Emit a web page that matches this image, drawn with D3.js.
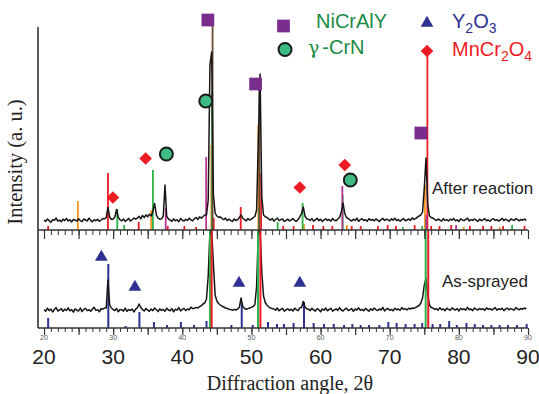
<!DOCTYPE html>
<html><head><meta charset="utf-8">
<script src="https://cdn.jsdelivr.net/npm/d3@7"></script>
<style>html,body{margin:0;padding:0;background:#fff;}svg{display:block;}</style>
</head><body>
<svg id="chart" width="539" height="394"></svg>
<script>
// ---------- DATA ----------
const angleStart = 20, angleStep = 0.25;
// "After reaction" pattern (counts, 0.25 deg step from 20 deg)
const upperCounts = [
98,86,110,92,78,104,96,120,88,100,82,108,94,116,90,102,80,106,98,88,112,94,84,110,100,90,118,96,82,104,92,108,86,100,114,112,
125,225,130,105,110,130,205,125,102,
92,110,86,100,116,90,102,120,108,
118,138,112,146,124,152,132,158,140,
185,265,150,118,108,112,140,450,135,110,
99,87,111,93,103,83,115,97,89,107,95,119,101,91,113,125,105,131,119,135,
150,150,300,1650,1780,350,170,140,128,
131,115,103,119,93,109,97,85,111,95,103,125,
150,118,
103,91,115,99,109,123,135,
200,900,1560,330,150,132,
125,111,99,115,89,105,119,93,103,111,85,97,109,91,101,115,95,87,105,131,
165,230,140,112,
106,96,114,90,100,118,94,108,84,102,112,96,106,88,116,98,92,110,128,
180,270,165,125,
114,100,90,108,96,118,86,104,112,94,102,88,114,98,106,92,110,100,84,104,116,96,108,
102,90,112,98,118,94,106,88,104,114,92,100,110,96,122,106,114,128,140,
150,180,420,720,260,140,125,
118,106,94,110,100,88,114,96,104,90,108,98,116,92,102,86,112,100,94,106,118,90,104,96,110,98,86,108,94,102,114,92,100,88,106,112,96,104,90,100,118,94,108,98,86,110,102,96,114,104,92,106,98,110,94
];
// "As-sprayed" pattern
const lowerCounts = [
182,168,198,174,190,160,186,204,170,180,194,166,188,176,202,172,184,158,192,178,170,200,164,186,196,174,182,168,190,206,176,184,162,194,188,200,
200,480,230,200,185,
174,194,162,186,180,170,198,166,184,176,190,160,188,202,
240,205,
184,170,196,178,166,190,174,200,182,164,192,176,186,168,198,180,172,194,162,188,178,204,170,186,196,174,190,182,208,194,196,206,200,214,222,240,
250,290,520,960,975,640,330,270,245,230,218,210,200,196,188,184,178,186,180,190,205,300,215,195,188,194,200,206,215,235,420,960,975,560,320,255,228,212,200,194,
190,178,200,172,186,196,168,182,192,176,188,170,198,184,174,202,
205,265,210,192,
188,174,198,180,170,194,184,162,190,178,200,172,186,196,168,182,192,176,204,180,170,188,198,174,184,194,166,190,180,202,176,186,172,196,182,168,192,178,200,184,174,190,180,206,170,188,196,178,186,172,198,182,190,176,204,186,194,180,198,190,200,196,206,215,
225,250,300,430,495,330,230,205,
200,186,194,178,204,182,190,172,198,186,176,202,188,180,194,170,196,184,192,178,206,182,190,174,200,188,180,196,184,192,176,202,186,194,180,190,204,178,192,184,198,174,188,200,182,194,186,178,204,190,182,196,188,200,190
];

// reference cards [angle, counts]
const upperRed = [[20.6,40],[29.25,570],[33.7,80],[37.9,40],[40.3,40],[42.0,30],[44.55,120],[48.45,230],[51.4,570],[54.6,40],[56.1,40],[58.9,50],[60.4,40],[61.7,40],[64.5,40],[65.8,40],[68.3,40],[69.7,50],[70.9,40],[73.6,50],[75.45,1780],[76.0,40],[77.2,40],[78.9,50],[81.6,40],[83.5,40],[84.7,40],[86.4,40],[89.5,40]];
const upperGreen = [[30.6,210],[31.6,50],[35.75,600],[44.3,1380],[51.1,220],[53.8,80],[57.4,270],[63.2,350],[71.9,30],[74.7,40],[75.25,100],[87.7,50]];
const upperOrange = [[24.9,290],[35.5,200],[44.2,850],[51.0,1050],[57.6,60],[63.8,50],[75.1,450],[80.7,30],[85.9,30]];
const upperMagenta = [[37.6,220],[43.45,730],[63.15,440],[75.3,150],[79.6,50]];
const upperBrown = [[44.38,2050],[51.15,1450]];
const lowerBlue = [[20.6,100],[29.3,640],[31.8,20],[33.8,160],[35.9,60],[37.8,30],[39.8,60],[41.7,30],[43.5,70],[47.1,30],[48.6,250],[50.2,30],[52.4,60],[53.7,40],[54.7,40],[56.1,50],[57.6,260],[59.0,50],[60.5,40],[61.9,40],[63.4,30],[64.6,40],[65.8,30],[67.0,30],[68.5,30],[69.8,60],[71.0,50],[72.3,40],[73.6,40],[74.7,50],[76.2,40],[77.3,40],[78.6,70],[79.7,30],[81.1,50],[82.3,40],[83.5,30],[84.7,30],[85.9,30],[87.1,30],[88.4,30],[89.8,40]];
const lowerGreen = [[44.0,975],[50.95,975],[75.2,975]];
const lowerRed = [[44.25,975],[51.3,975],[75.57,975]];

// phase markers [angle, counts]
const nicralyMarks = [[43.7,2100],[50.6,1460],[74.5,970]];
const crnMarks = [[43.4,1290],[37.7,760],[64.3,500]];
const mncrMarks = [[29.97,325],[34.7,715],[57.0,425],[63.5,650]];
const y2o3Marks = [[28.3,710],[33.15,410],[48.2,450],[57.0,450]];

const majorTickLabels = ["20","30","40","50","60","70","80","90"];
const minorTicks = d3.range(20, 91, 1);
const majorTicks = d3.range(20, 91, 5);
const labelTicks = d3.range(20, 91, 10);

// ---------- DRAW ----------
const svg = d3.select("#chart");
const x = d3.scaleLinear().domain([20, 90]).range([44, 528]);
const yUp = d3.scaleLinear().domain([0, 2150]).range([230, 15]);
const yLow = d3.scaleLinear().domain([0, 1000]).range([328, 228]);

const C = {red:"#ed1c24", green:"#2db34a", orange:"#f7941d", magenta:"#b83592", brown:"#6b4a32", blue:"#2e3192", purple:"#7b2d8e", crn:"#3dbb82"};

function sticks(data, y, color, w) {
  svg.append("g").selectAll("line").data(data).join("line")
    .attr("x1", d => x(d[0])).attr("x2", d => x(d[0]))
    .attr("y1", y(0)).attr("y2", d => y(d[1]))
    .attr("stroke", color).attr("stroke-width", w);
}
function axisAt(yPos, minorLen, majorLen) {
  svg.append("g").attr("transform", `translate(0,${yPos})`)
    .call(d3.axisBottom(x).tickValues(minorTicks).tickSize(minorLen).tickFormat(""))
    .call(g => g.select(".domain").remove())
    .call(g => g.selectAll("line").attr("stroke", "#333").attr("stroke-width", 1));
  svg.append("g").attr("transform", `translate(0,${yPos})`)
    .call(d3.axisBottom(x).tickValues(majorTicks).tickSize(majorLen).tickFormat(""))
    .call(g => g.select(".domain").remove())
    .call(g => g.selectAll("line").attr("stroke", "#333").attr("stroke-width", 1.2));
  svg.append("line").attr("x1", 38).attr("x2", x(90)).attr("y1", yPos).attr("y2", yPos)
    .attr("stroke", "#333").attr("stroke-width", 1.3);
}

// sticks under traces
sticks(upperRed, yUp, C.red, 1.8);
sticks(upperOrange, yUp, C.orange, 1.8);
sticks(upperGreen, yUp, C.green, 1.8);
sticks(upperMagenta, yUp, C.magenta, 1.8);
sticks(upperBrown, yUp, C.brown, 1.8);
sticks(lowerBlue, yLow, C.blue, 2);

// traces
const lineUp = d3.line().x((d, i) => x(angleStart + i * angleStep)).y(d => yUp(d));
const lineLow = d3.line().x((d, i) => x(angleStart + i * angleStep)).y(d => yLow(d));
svg.append("path").attr("d", lineUp(upperCounts)).attr("fill", "none").attr("stroke", "#161616").attr("stroke-width", 1.5).attr("stroke-linejoin", "round");
svg.append("path").attr("d", lineLow(lowerCounts)).attr("fill", "none").attr("stroke", "#161616").attr("stroke-width", 1.5).attr("stroke-linejoin", "round");

// through lines on top
sticks(lowerGreen, yLow, C.green, 2);
sticks(lowerRed, yLow, C.red, 2);

// axes
axisAt(230, 5, 9);
axisAt(328, 4, 7);
svg.append("line").attr("x1", 38).attr("x2", 38).attr("y1", 27).attr("y2", 328)
  .attr("stroke", "#333").attr("stroke-width", 1.6);

// tick labels
svg.append("g").selectAll("text").data(labelTicks).join("text")
  .attr("x", d => x(d)).attr("y", 340).attr("text-anchor", "middle")
  .attr("font-family", "Liberation Sans, Arial, sans-serif").attr("font-size", 7).attr("fill", "#555")
  .text((d, i) => majorTickLabels[i]);
svg.append("g").selectAll("text").data(labelTicks).join("text")
  .attr("x", d => x(d)).attr("y", 364).attr("text-anchor", "middle")
  .attr("font-family", "Liberation Sans, Arial, sans-serif").attr("font-size", 21).attr("fill", "#222")
  .text((d, i) => majorTickLabels[i]);

// axis titles
svg.append("text").attr("x", 290).attr("y", 390).attr("text-anchor", "middle")
  .attr("font-family", "Liberation Serif, Times New Roman, serif").attr("font-size", 20).attr("fill", "#222")
  .text("Diffraction angle, 2θ");
svg.append("text").attr("transform", "translate(22,162) rotate(-90)").attr("text-anchor", "middle")
  .attr("font-family", "Liberation Serif, Times New Roman, serif").attr("font-size", 20.5).attr("fill", "#222")
  .text("Intensity (a. u.)");

// markers
const sq = d3.symbol().type(d3.symbolSquare).size(162);
const dia = d3.symbol().type(d3.symbolSquare).size(80);
const tri = d3.symbol().type(d3.symbolTriangle).size(70);
function marks(data, y, sym, fill, rot) {
  svg.append("g").selectAll("path").data(data).join("path")
    .attr("d", sym).attr("fill", fill)
    .attr("transform", d => `translate(${x(d[0])},${y(d[1])}) rotate(${rot || 0})`);
}
function circles(data, y) {
  svg.append("g").selectAll("circle").data(data).join("circle")
    .attr("cx", d => x(d[0])).attr("cy", d => y(d[1])).attr("r", 6.5)
    .attr("fill", C.crn).attr("stroke", "#1a1a1a").attr("stroke-width", 2);
}
marks(nicralyMarks, yUp, sq, C.purple);
circles(crnMarks, yUp);
marks(mncrMarks, yUp, dia, C.red, 45);
marks(y2o3Marks, yLow, tri, C.blue);

// legend
const lg = svg.append("g").attr("font-family", "Liberation Sans, Arial, sans-serif").attr("font-size", 20);
lg.append("path").attr("d", sq).attr("fill", C.purple).attr("transform", "translate(283.5,26)");
lg.append("text").attr("x", 316).attr("y", 28).attr("fill", "#1b8a45").text("NiCrAlY");
lg.append("circle").attr("cx", 285).attr("cy", 49.5).attr("r", 6.5).attr("fill", C.crn).attr("stroke", "#1a1a1a").attr("stroke-width", 2);
const tg = lg.append("text").attr("x", 308).attr("y", 54).attr("fill", "#1b8a45");
tg.append("tspan").attr("font-family", "DejaVu Serif, serif").attr("font-size", 19).text("γ");
tg.append("tspan").attr("dx", 3).text("-CrN");
lg.append("path").attr("d", tri).attr("fill", C.blue).attr("transform", "translate(427,23)");
const yt = lg.append("text").attr("x", 452).attr("y", 28).attr("fill", C.blue);
yt.append("tspan").text("Y");
yt.append("tspan").attr("font-size", 14).attr("dy", 5).text("2");
yt.append("tspan").attr("dy", -5).text("O");
yt.append("tspan").attr("font-size", 14).attr("dy", 5).text("3");
lg.append("path").attr("d", dia).attr("fill", C.red).attr("transform", "translate(427,51) rotate(45)");
const mt = lg.append("text").attr("x", 452).attr("y", 56).attr("fill", C.red);
mt.append("tspan").text("MnCr");
mt.append("tspan").attr("font-size", 14).attr("dy", 5).text("2");
mt.append("tspan").attr("dy", -5).text("O");
mt.append("tspan").attr("font-size", 14).attr("dy", 5).text("4");

// pattern labels
svg.append("text").attr("x", 432).attr("y", 194).attr("font-family", "Liberation Sans, Arial, sans-serif")
  .attr("font-size", 17).attr("fill", "#222").text("After reaction");
svg.append("text").attr("x", 442).attr("y", 287).attr("font-family", "Liberation Sans, Arial, sans-serif")
  .attr("font-size", 17).attr("fill", "#222").text("As-sprayed");
</script>
</body></html>
